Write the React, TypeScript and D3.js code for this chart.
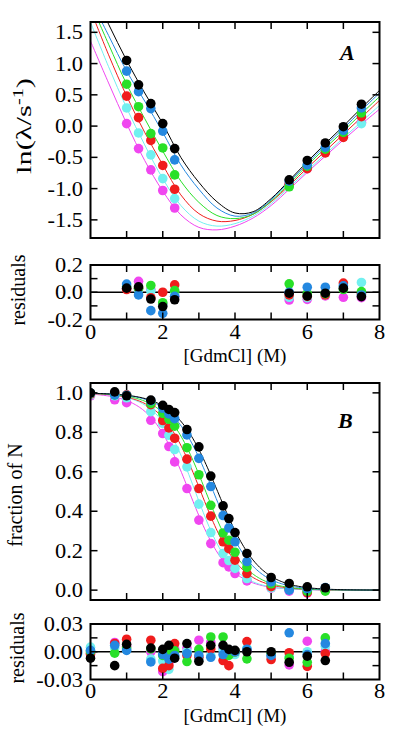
import React from "react";
import * as d3 from "d3";

// ---------- series (draw order: magenta, cyan, red, green, blue, black) ----------
const seriesColors = ["#f046f0", "#72f0f0", "#f01c1c", "#28e028", "#2488e0", "#000000"];

// ---------- Panel A: ln(lambda/s^-1) vs [GdmCl] ----------
const kinX = [1.0, 1.33, 1.67, 2.0, 2.33, 5.5, 6.0, 6.5, 7.0, 7.5];
const lnRateMagenta = [0.04, -0.36, -0.70, -1.03, -1.31, -0.93, -0.68, -0.42, -0.16, 0.06];
const lnRateCyan = [0.29, -0.11, -0.46, -0.84, -1.16, -0.95, -0.67, -0.41, -0.14, 0.04];
const lnRateRed = [0.48, 0.135, -0.23, -0.63, -1.01, -0.93, -0.68, -0.43, -0.18, 0.15];
const lnRateGreen = [0.67, 0.31, -0.12, -0.35, -0.78, -0.97, -0.64, -0.37, -0.10, 0.21];
const lnRateBlue = [0.88, 0.55, 0.28, -0.08, -0.54, -0.88, -0.62, -0.34, -0.07, 0.29];
const lnRateBlack = [1.05, 0.66, 0.36, 0.04, -0.36, -0.86, -0.55, -0.27, -0.01, 0.35];

// fitted chevron curves, read at these denaturant values
const fitGridA = [0, 0.5, 1, 1.5, 2, 2.5, 3, 3.5, 4, 4.5, 5, 5.5, 6, 6.5, 7, 7.5, 8];
const fitAMagenta = [1.36, 0.69, 0.04, -0.55, -1.04, -1.42, -1.62, -1.66, -1.60, -1.47, -1.27, -1.01, -0.74, -0.48, -0.22, 0.03, 0.27];
const fitACyan = [1.66, 0.95, 0.29, -0.30, -0.84, -1.27, -1.52, -1.60, -1.56, -1.44, -1.24, -0.98, -0.71, -0.45, -0.19, 0.07, 0.33];
const fitARed = [1.86, 1.14, 0.48, -0.10, -0.62, -1.10, -1.40, -1.52, -1.51, -1.41, -1.21, -0.95, -0.67, -0.40, -0.13, 0.14, 0.41];
const fitAGreen = [1.97, 1.31, 0.67, 0.12, -0.40, -0.88, -1.22, -1.43, -1.48, -1.41, -1.20, -0.92, -0.63, -0.35, -0.08, 0.20, 0.47];
const fitABlue = [2.03, 1.45, 0.88, 0.40, -0.10, -0.62, -1.01, -1.31, -1.44, -1.39, -1.18, -0.89, -0.60, -0.31, -0.04, 0.25, 0.53];
const fitABlack = [2.22, 1.63, 1.05, 0.53, 0.04, -0.50, -0.90, -1.21, -1.39, -1.37, -1.16, -0.87, -0.57, -0.28, 0.0, 0.29, 0.57];

// residuals panel A
const residAMagenta = [0.03, 0.08, 0.02, -0.09, -0.03, -0.057, -0.052, -0.027, -0.037, -0.04];
const residACyan = [0.04, 0.02, 0.01, -0.09, -0.01, -0.037, -0.04, -0.02, 0.04, 0.072];
const residARed = [0.02, 0.03, -0.04, 0.0, 0.054, -0.02, -0.03, -0.02, 0.067, -0.01];
const residAGreen = [0.04, 0.03, 0.05, -0.077, 0.012, 0.062, -0.01, -0.01, 0.02, 0.005];
const residABlue = [0.06, -0.02, -0.135, -0.155, -0.03, 0.0, 0.037, 0.037, 0.047, -0.02];
const residABlack = [0.03, 0.04, -0.05, -0.105, -0.055, -0.007, -0.027, -0.007, 0.03, -0.032];

// ---------- Panel B: fraction of N vs [GdmCl] ----------
const eqX = [0, 0.67, 1.0, 1.67, 2.0, 2.17, 2.33, 2.67, 3.0, 3.33, 3.67, 3.83, 4.0, 4.33, 5.0, 5.5, 6.0, 6.5];
const fracMagenta = [0.985, 0.965, 0.95, 0.861, 0.794, 0.728, 0.65, 0.515, 0.355, 0.236, 0.139, 0.118, 0.084, 0.047, 0.01, -0.005, -0.015, 0.0];
const fracCyan = [0.99, 0.985, 0.975, 0.905, 0.845, 0.785, 0.713, 0.625, 0.436, 0.292, 0.186, 0.15, 0.11, 0.059, 0.012, 0.002, 0.002, 0.006];
const fracRed = [0.994, 0.997, 0.99, 0.94, 0.86, 0.822, 0.77, 0.664, 0.515, 0.375, 0.245, 0.21, 0.152, 0.084, 0.018, 0.01, -0.012, 0.0];
const fracGreen = [0.997, 0.99, 0.987, 0.946, 0.896, 0.866, 0.831, 0.722, 0.585, 0.43, 0.29, 0.253, 0.192, 0.115, 0.032, 0.007, -0.006, -0.005];
const fracBlue = [0.999, 0.99, 0.988, 0.96, 0.922, 0.893, 0.869, 0.787, 0.668, 0.525, 0.378, 0.315, 0.245, 0.145, 0.042, 0.0, 0.006, 0.013];
const fracBlack = [1.0, 1.005, 0.985, 0.963, 0.937, 0.916, 0.90, 0.814, 0.726, 0.578, 0.427, 0.363, 0.292, 0.186, 0.064, 0.034, 0.017, 0.012];

// two-state fit parameters (midpoint, steepness) per series
const fitMidB = [2.73, 2.90, 3.05, 3.19, 3.40, 3.52];
const fitSteepB = [1.85, 1.95, 1.85, 1.85, 1.8, 1.75];

// residuals panel B
const residBMagenta = [-0.003, 0.01, 0.006, 0.0, -0.0216, -0.012, 0.003, 0.004, 0.0125, 0.01, 0.004, -0.003, -0.001, 0.002, -0.005, -0.0143, 0.0114, 0.0];
const residBCyan = [0.005, 0.004, 0.002, -0.008, -0.01, -0.019, -0.005, 0.0, -0.008, -0.004, 0.002, -0.002, -0.003, 0.004, -0.006, -0.005, 0.0, 0.006];
const residBRed = [-0.002, 0.009, 0.0135, 0.0125, -0.018, -0.015, 0.0088, -0.004, -0.006, 0.003, -0.0095, -0.015, 0.0, 0.011, -0.0084, -0.001, -0.0158, -0.002];
const residBGreen = [0.0, -0.0015, 0.004, 0.003, -0.004, -0.002, 0.001, -0.0106, 0.0026, 0.016, 0.016, -0.004, 0.0, -0.0077, -0.002, -0.007, -0.0114, 0.015];
const residBBlue = [0.0015, 0.007, 0.0015, -0.011, -0.003, -0.008, -0.004, -0.002, -0.004, -0.006, -0.003, 0.002, 0.0, 0.0026, -0.004, 0.0205, -0.003, 0.0088];
const residBBlack = [-0.007, -0.015, 0.008, 0.004, 0.0026, 0.007, -0.007, 0.0088, -0.0103, 0.007, 0.007, 0.0026, 0.0015, 0.0, 0.0, -0.0114, -0.0048, -0.0095];

// ---------- ticks ----------
const xTickVals = [1, 2, 3, 4, 5, 6, 7];
const xTickLabels = ["0", "2", "4", "6", "8"];
const yTicksA = [-1.5, -1.0, -0.5, 0.0, 0.5, 1.0, 1.5];
const yTickLabelsA = ["-1.5", "-1.0", "-0.5", "0.0", "0.5", "1.0", "1.5"];
const yTicksRA = [-0.1, 0.0, 0.1];
const yTickLabelsRA = ["-0.2", "0.0", "0.2"];
const yTicksB = [0.0, 0.2, 0.4, 0.6, 0.8, 1.0];
const yTickLabelsB = ["0.0", "0.2", "0.4", "0.6", "0.8", "1.0"];
const yTicksRB = [-0.015, 0.0, 0.015];
const yTickLabelsRB = ["-0.03", "0.00", "0.03"];

const lnRates = [lnRateMagenta, lnRateCyan, lnRateRed, lnRateGreen, lnRateBlue, lnRateBlack];
const fitsA = [fitAMagenta, fitACyan, fitARed, fitAGreen, fitABlue, fitABlack];
const residsA = [residAMagenta, residACyan, residARed, residAGreen, residABlue, residABlack];
const fracs = [fracMagenta, fracCyan, fracRed, fracGreen, fracBlue, fracBlack];
const residsB = [residBMagenta, residBCyan, residBRed, residBGreen, residBBlue, residBBlack];

// ---------- layout ----------
const X0 = 90.5;
const X1 = 379.5;
const TL = 7;
const R = 4.8;
const FONT = "Liberation Serif, DejaVu Serif, serif";
const FS = 20;
const SX = 1.12; // horizontal stretch of the tick labels

const xScale = d3.scaleLinear().domain([0, 8]).range([X0, X1]);
const yA = d3.scaleLinear().domain([-1.79, 1.665]).range([238, 22]);
const yRA = d3.scaleLinear().domain([-0.2, 0.2]).range([319.5, 265]);
const yB = d3.scaleLinear().domain([-0.05, 1.05]).range([600, 383]);
const yRB = d3.scaleLinear().domain([-0.03, 0.03]).range([679.5, 624]);

const txt = { fontFamily: FONT, fontSize: FS } as any;

function Frame({ y, yTicks, yTickLabels, labelVals }: any) {
  const [yb, yt] = y.range();
  return (
    <g>
      {xTickVals.map((t) => (
        <g key={"x" + t} stroke="#000" strokeWidth={1.5}>
          <line x1={xScale(t)} x2={xScale(t)} y1={yb} y2={yb - TL} />
          <line x1={xScale(t)} x2={xScale(t)} y1={yt} y2={yt + TL} />
        </g>
      ))}
      {yTicks.map((t: number) => (
        <g key={"y" + t} stroke="#000" strokeWidth={1.5}>
          <line x1={X0} x2={X0 + TL} y1={y(t)} y2={y(t)} />
          <line x1={X1} x2={X1 - TL} y1={y(t)} y2={y(t)} />
        </g>
      ))}
      <rect x={X0} y={yt} width={X1 - X0} height={yb - yt} fill="none" stroke="#000" strokeWidth={2} />
      {labelVals.map((v: number, i: number) => (
        <text
          key={"l" + i}
          transform={`translate(83,${y(v)}) scale(${SX},1)`}
          dy="0.35em"
          textAnchor="end"
          style={txt}
        >
          {yTickLabels[i]}
        </text>
      ))}
    </g>
  );
}

function XLabels({ yPos, titleY }: any) {
  return (
    <g>
      {xTickLabels.map((l, i) => (
        <text key={l} transform={`translate(${xScale(i * 2)},${yPos}) scale(${SX},1)`} textAnchor="middle" style={txt}>
          {l}
        </text>
      ))}
      <text x={xScale(4)} y={titleY} textAnchor="middle" style={{ fontFamily: FONT, fontSize: 19 }}>[GdmCl] (M)</text>
    </g>
  );
}

function Dots({ xs, ys, y }: any) {
  return (
    <g>
      {ys.map((arr: number[], si: number) => (
        <g key={si} fill={seriesColors[si]}>
          {arr.map((v, i) => (
            <circle key={i} cx={xScale(xs[i])} cy={y(v)} r={R} />
          ))}
        </g>
      ))}
    </g>
  );
}

export default function App() {
  const lineA = d3
    .line<number>()
    .x((_, i) => xScale(fitGridA[i]))
    .y((v) => yA(v))
    .curve(d3.curveCatmullRom.alpha(0.5));

  const sampleB = d3.range(0, 8.0001, 0.04);
  const lineB = (mid: number, m: number) =>
    d3
      .line<number>()
      .x((x) => xScale(x))
      .y((x) => yB(1 / (1 + Math.exp(m * (x - mid)))))(sampleB);

  return (
    <svg width={400} height={732} style={{ position: "fixed", left: 0, top: 0, background: "#fff" }}>
      <defs>
        <clipPath id="clipA">
          <rect x={X0} y={22} width={X1 - X0} height={216} />
        </clipPath>
        <clipPath id="clipB">
          <rect x={X0} y={383} width={X1 - X0} height={217} />
        </clipPath>
      </defs>
      <rect x={0} y={0} width={400} height={732} fill="#fff" />

      {/* Panel A */}
      <g clipPath="url(#clipA)">
        {fitsA.map((f, si) => (
          <path key={si} d={lineA(f) || ""} fill="none" stroke={seriesColors[si]} strokeWidth={1} />
        ))}
        <Dots xs={kinX} ys={lnRates} y={yA} />
      </g>
      <Frame y={yA} yTicks={yTicksA} yTickLabels={yTickLabelsA} labelVals={yTicksA} />
      <text x={340} y={60} style={{ fontFamily: FONT, fontSize: 22, fontWeight: "bold", fontStyle: "italic" }}>A</text>
      <text transform="translate(31,126) rotate(-90) scale(1.45,1)" textAnchor="middle" style={{ fontFamily: FONT, fontSize: 21 }}>
        ln(λ/s<tspan dy={-8} style={{ fontSize: 14 }}>-1</tspan><tspan dy={8}>)</tspan>
      </text>

      {/* Residuals A */}
      <line x1={X0} x2={X1} y1={yRA(0)} y2={yRA(0)} stroke="#000" strokeWidth={1.5} />
      <Dots xs={kinX} ys={residsA} y={yRA} />
      <Frame y={yRA} yTicks={yTicksRA} yTickLabels={yTickLabelsRA} labelVals={[-0.2, 0, 0.2]} />
      <XLabels yPos={339} titleY={362} />
      <text transform="translate(25,290) rotate(-90)" textAnchor="middle" style={txt}>residuals</text>

      {/* Panel B */}
      <g clipPath="url(#clipB)">
        {fitMidB.map((mid, si) => (
          <path key={si} d={lineB(mid, fitSteepB[si]) || ""} fill="none" stroke={seriesColors[si]} strokeWidth={1} />
        ))}
        <Dots xs={eqX} ys={fracs} y={yB} />
      </g>
      <Frame y={yB} yTicks={yTicksB} yTickLabels={yTickLabelsB} labelVals={yTicksB} />
      <text x={338} y={428} style={{ fontFamily: FONT, fontSize: 22, fontWeight: "bold", fontStyle: "italic" }}>B</text>
      <text transform="translate(22,495) rotate(-90)" textAnchor="middle" style={txt}>fraction of N</text>

      {/* Residuals B */}
      <line x1={X0} x2={X1} y1={yRB(0)} y2={yRB(0)} stroke="#000" strokeWidth={1.5} />
      <Dots xs={eqX} ys={residsB} y={yRB} />
      <Frame y={yRB} yTicks={yTicksRB} yTickLabels={yTickLabelsRB} labelVals={[-0.03, 0, 0.03]} />
      <XLabels yPos={698} titleY={722} />
      <text transform="translate(24,648) rotate(-90)" textAnchor="middle" style={txt}>residuals</text>
    </svg>
  );
}
